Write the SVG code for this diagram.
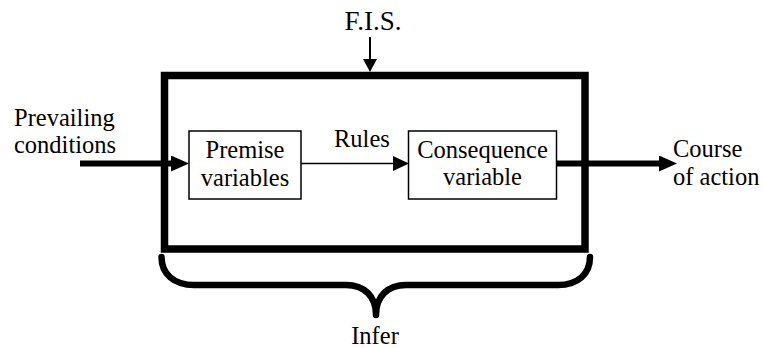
<svg xmlns="http://www.w3.org/2000/svg" width="763" height="348" viewBox="0 0 763 348">
  <style>
    .frame { fill: none; stroke: #000; stroke-width: 7.5; }
    .box { fill: #fff; stroke: #000; stroke-width: 1.5; }
    .thick { fill: none; stroke: #000; stroke-width: 6; }
    .thin { fill: none; stroke: #000; stroke-width: 1.5; }
    .thin2 { fill: none; stroke: #000; stroke-width: 2; }
    .brace { fill: none; stroke: #000; stroke-width: 6.5; stroke-linecap: round; stroke-linejoin: round; }
  </style>
  <defs>
    <marker id="head-thick" markerUnits="userSpaceOnUse" markerWidth="20" markerHeight="18" refX="0" refY="8" orient="auto">
      <path d="M0,0 L18,8 L0,16 z" fill="#000"/>
    </marker>
    <marker id="head-thin" markerUnits="userSpaceOnUse" markerWidth="18" markerHeight="16" refX="0" refY="7.5" orient="auto">
      <path d="M0,0 L16,7.5 L0,15 z" fill="#000"/>
    </marker>
    <marker id="head-fis" markerUnits="userSpaceOnUse" markerWidth="14" markerHeight="14" refX="0" refY="7" orient="auto">
      <path d="M0,0 L13,7 L0,14 z" fill="#000"/>
    </marker>
  </defs>

  <g font-family="'Liberation Serif', 'Times New Roman', Times, 'DejaVu Serif', serif" font-size="24.5" fill="#000">
    <!-- inference system frame -->
    <g id="fis">
      <rect class="frame" x="164.5" y="75.5" width="420.5" height="173.5"/>
      <text text-anchor="middle" x="373" y="30" font-size="27">F.I.S.</text>
    </g>

    <!-- connectors -->
    <g id="connectors">
      <path class="thin2" d="M370,37 L370,59" marker-end="url(#head-fis)"/>
      <path class="thick" d="M80,163.5 L171,163.5" marker-end="url(#head-thick)"/>
      <path class="thin" d="M301,163.5 L393,163.5" marker-end="url(#head-thin)"/>
      <path class="thick" d="M556.5,163.5 L659,163.5" marker-end="url(#head-thick)"/>
    </g>

    <g id="premise">
      <rect class="box" x="189" y="131" width="112" height="68"/>
      <text text-anchor="middle" x="245" y="158">Premise</text>
      <text text-anchor="middle" x="245" y="185.5">variables</text>
    </g>

    <g id="consequence">
      <rect class="box" x="408.5" y="131" width="148" height="68"/>
      <text text-anchor="middle" x="482.5" y="157.5">Consequence</text>
      <text text-anchor="middle" x="482.5" y="185">variable</text>
    </g>

    <g id="rules-label">
      <text x="334" y="147">Rules</text>
    </g>

    <g id="input">
      <text x="14" y="125.5">Prevailing</text>
      <text x="14" y="153">conditions</text>
    </g>

    <g id="output">
      <text x="673" y="157">Course</text>
      <text x="673" y="184.5">of action</text>
    </g>

    <!-- brace under the frame -->
    <g id="infer">
      <path class="brace" d="M161.5,257 C161.5,274 174,285 194,285 L346,285 C364,285 376,296 376,315 C376,296 388,285 406,285 L558,285 C578,285 590,274 590,257"/>
      <text text-anchor="middle" x="375" y="344">Infer</text>
    </g>
  </g>
</svg>
